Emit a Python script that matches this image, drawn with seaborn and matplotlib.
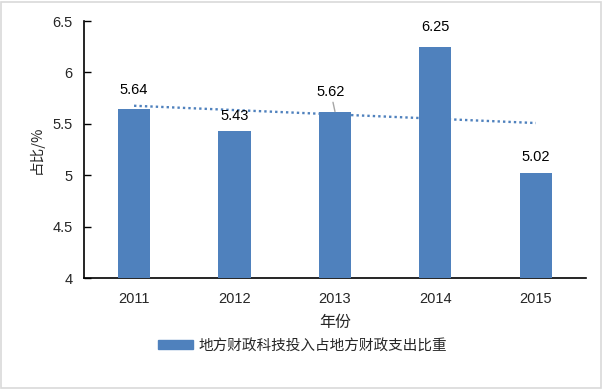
import numpy as np
import pandas as pd
import matplotlib
matplotlib.use("Agg")
import matplotlib.pyplot as plt
from matplotlib.patches import Patch, Rectangle
import seaborn as sns

years = ["2011", "2012", "2013", "2014", "2015"]
values = [5.64, 5.43, 5.62, 6.25, 5.02]
series_name = "地方财政科技投入占地方财政支出比重"
x_label = "年份"
y_label = "占比/%"
y_ticks = [4, 4.5, 5, 5.5, 6, 6.5]

sns.set_theme(style="white")
plt.rcParams['font.family'] = ['Liberation Sans', 'Noto Sans CJK SC', 'DejaVu Sans']

bar_color = "#4F81BD"
df = pd.DataFrame({"year": years, "value": values})

fig = plt.figure(figsize=(6.03, 3.89), dpi=100)
ax = fig.add_axes([0.139, 0.285, 0.833, 0.661])

sns.barplot(data=df, x="year", y="value", color=bar_color, width=0.32,
            saturation=1, ax=ax, zorder=3, linewidth=0, edgecolor=bar_color)

# linear trendline
xs = np.arange(len(values))
k, b = np.polyfit(xs, values, 1)
ax.plot(xs, k * xs + b, linestyle=(0, (1, 1.3)), linewidth=1.7,
        color="#4F81BD", zorder=2, dash_capstyle="butt")

ax.set_ylim(4, 6.5)
ax.set_xlim(-0.5, len(years) - 0.5)
ax.set_yticks(y_ticks)
ax.set_yticklabels([f"{t:g}" for t in y_ticks], fontsize=10.5)
ax.set_xticks(xs)
ax.set_xticklabels(years, fontsize=10.5)

# category boundary ticks on x axis
ax.set_xticks(np.arange(-0.5, len(years), 1.0), minor=True)
ax.tick_params(axis="x", which="major", length=0, pad=10)
ax.tick_params(axis="x", which="minor", direction="in", length=4, width=1, color="black")
ax.tick_params(axis="y", direction="in", length=5, width=1, color="black", pad=8, left=True)

for s in ["top", "right"]:
    ax.spines[s].set_visible(False)
for s in ["left", "bottom"]:
    ax.spines[s].set_visible(True)
    ax.spines[s].set_color("black")
    ax.spines[s].set_linewidth(1.2)

# data labels
offsets = [9, 6, 9, 9, 7]
for i, v in enumerate(values):
    if i == 2:
        ax.annotate(f"{v:.2f}", xy=(i, v), xytext=(-3, offsets[i]),
                    textcoords="offset points", ha="center", va="bottom",
                    fontsize=10.5, color="black",
                    arrowprops=dict(arrowstyle="-", color="#a6a6a6", lw=1,
                                    shrinkA=0, shrinkB=0))
    else:
        ax.annotate(f"{v:.2f}", xy=(i, v), xytext=(0, offsets[i]),
                    textcoords="offset points", ha="center", va="bottom",
                    fontsize=10.5, color="black")

ax.set_xlabel(x_label, fontsize=11.5, labelpad=6,
              family=['Noto Sans CJK SC', 'DejaVu Sans'])
ax.set_ylabel(y_label, fontsize=10.5, labelpad=6,
              family=['Noto Sans CJK SC', 'DejaVu Sans'])

handles = [Patch(facecolor=bar_color, edgecolor=bar_color)]
fig.legend(handles, [series_name], loc="center", bbox_to_anchor=(0.502, 0.111),
           frameon=False, handlelength=2.4, handleheight=0.55, handletextpad=0.4,
           prop=dict(family=['Noto Sans CJK SC', 'DejaVu Sans'], size=10.5))

fig.patches.append(Rectangle((0.002, 0.003), 0.995, 0.993, transform=fig.transFigure,
                             fill=False, edgecolor="#d9d9d9", linewidth=1.2))

fig.savefig("out.png", dpi=100)
